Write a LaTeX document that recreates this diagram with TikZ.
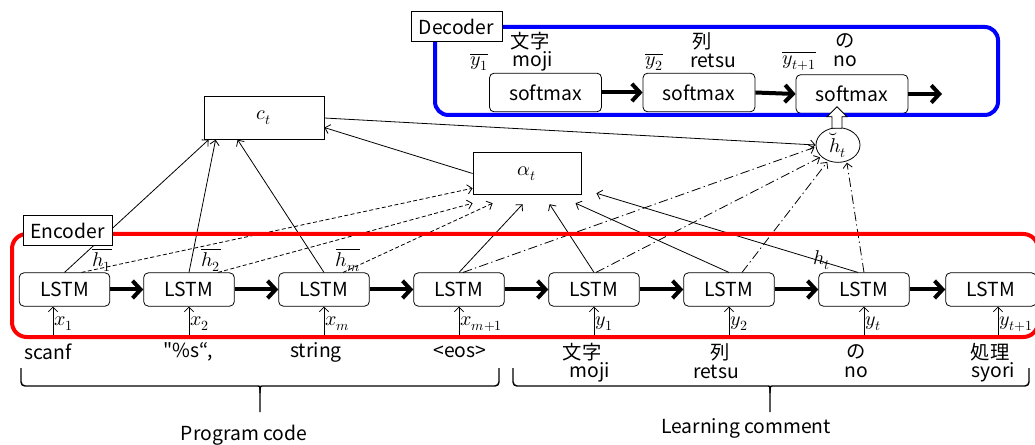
\documentclass[tikz,border=0pt]{standalone}
\usepackage{fontspec}
\usepackage{unicode-math}
\setmainfont{Noto Sans CJK JP}
\setmathfont{Latin Modern Math}
\usetikzlibrary{arrows.meta,calc,shapes.geometric}
\definecolor{encred}{RGB}{255,0,0}
\definecolor{decblue}{RGB}{0,0,255}
\tikzset{
  txt/.style={font=\fontsize{14.5}{16}\selectfont, inner sep=0pt},
  mth/.style={font=\fontsize{15}{17}\selectfont, inner sep=0pt},
  lstm/.style={draw, rounded corners=3.5pt, line width=0.6pt, minimum width=68pt,
    minimum height=25pt, inner sep=0pt, txt},
  smax/.style={lstm, minimum width=84pt, minimum height=29pt},
  vbox/.style={draw, line width=0.6pt, inner sep=0pt, mth},
  tag/.style={draw, fill=white, line width=0.5pt, inner sep=0pt, txt},
  flow/.style={line width=3pt, -{Straight Barb[length=6pt,width=13pt]}},
  link/.style={line width=0.6pt, -{Straight Barb[length=3.5pt,width=7pt]}},
  hbar/.style={link, dash pattern=on 3pt off 1.8pt},
  dotdash/.style={link, dash pattern=on 7pt off 2.5pt on 1pt off 2.5pt},
  frame/.style={line width=3pt, rounded corners=11pt},
}
\begin{document}
\begin{tikzpicture}[x=0.75pt, y=-0.75pt]
\useasboundingbox (0,0) rectangle (1035,445);

% encoder / decoder LSTM chain
\node[lstm] (l1) at (64.5,289.5) {LSTM};
\node[lstm] (l2) at (189,289.5) {LSTM};
\node[lstm] (l3) at (324,289.5) {LSTM};
\node[lstm] (l4) at (459,289.5) {LSTM};
\node[lstm] (l5) at (594,289.5) {LSTM};
\node[lstm] (l6) at (729,289.5) {LSTM};
\node[lstm] (l7) at (864,289.5) {LSTM};
\node[lstm] (l8) at (991,289.5) {LSTM};

% attention blocks
\node[vbox, minimum width=90pt, minimum height=32pt] (ct) at (264,118) {$c_t$};
\node[vbox, minimum width=81pt, minimum height=32pt] (at) at (527,173.5) {$\alpha_t$};
\node[draw, ellipse, line width=0.6pt, minimum width=33pt, minimum height=25.5pt,
  inner sep=0pt, mth] (ht) at (838,145) {$\breve{h}_t$};

% output layer
\node[smax] (s1) at (545.5,92.5) {softmax};
\node[smax] (s2) at (699,92.5) {softmax};
\node[smax] (s3) at (852,94) {softmax};
\coordinate (send) at (942,94);

% recurrent links
\foreach \a/\b in {l1/l2,l2/l3,l3/l4,l4/l5,l5/l6,l6/l7,l7/l8}
  \draw[flow] (\a.east) -- (\b.west);
\draw[flow] (s1.east) -- (s2.west);
\draw[flow] (s2.east) -- (s3.west);
\draw[flow] (s3.east) -- (send);

% inputs
\foreach \i/\x/\n/\lab in {1/53/l1/x_1, 2/189/l2/x_2, 3/324/l3/x_m, 4/459/l4/x_{m+1},
    5/594/l5/y_1, 6/729/l6/y_2, 7/864/l7/y_t, 8/998/l8/y_{t+1}}{
  \coordinate (in\i) at (\x,337);
  \draw[link] (in\i) -- (in\i |- \n.south);
  \node[mth, anchor=west] at ($(in\i)+(1,-13)$) {$\lab$};
}

% encoder states into the context vector
\draw[link] (l1.north) -- ($(ct.south west)+(5,0)$);
\draw[link] (l2.north) -- ($(ct.south west)+(12,0)$);
\draw[link] (l3.north) -- ($(ct.south west)+(34,0)$);
\draw[link] (at.west) -- ($(ct.south east)!0.28!(ct.north east)$);
\draw[link] (ct.east) -- (ht.west);

% encoder states into the attention weights
\draw[hbar] ($(l1.north)+(17,0)$) -- ($(at.south west)+(0,-7)$);
\draw[hbar] ($(l2.north)+(29,0)$) -- ($(at.south west)+(0,8)$);
\draw[hbar] ($(l3.north)+(19,0)$) -- ($(at.south west)+(20,8)$);

% decoder states into the attention weights
\draw[link] (l4.north) -- ($(at.south west)+(50,9)$);
\draw[link] (l5.north) -- ($(at.south west)+(77,9)$);
\draw[link] (l6.north) -- ($(at.south west)+(103,8)$);
\draw[link] ($(l7.north)+(-6,0)$) -- ($(at.south east)+(15,-2)$);

% decoder states into the attentional hidden state
\draw[dotdash, shorten >=1pt] ($(l4.north)+(4,0)$) -- (ht.185);
\draw[dotdash, shorten >=1pt] ($(l5.north)+(2,0)$) -- (ht.215);
\draw[dotdash, shorten >=1pt] ($(l6.north)+(13,0)$) -- (ht.238);
\draw[dotdash, shorten >=1pt] (l7.north) -- (ht.298);

% state labels
\node[mth] at (102,260) {$\overline{h_1}$};
\node[mth] at (211,260) {$\overline{h_2}$};
\node[mth] at (348,260) {$\overline{h_m}$};
\node[mth] at (822,260) {$h_t$};

% encoder and decoder frames
\draw[frame, encred] (12,234) rectangle (1038,337);
\draw[frame, decblue, rounded corners=10pt] (435,27) rectangle (998,115);
\node[tag, minimum width=67pt, minimum height=23pt] (enc) at (67.5,230.5) {Encoder};
\node[tag, minimum width=68pt, minimum height=23pt] (dec) at (456.5,26.5) {Decoder};

% hollow arrow from the attentional state into the output layer
\coordinate (ha) at ($(ht.north)+(-1,1)$);
\coordinate (hb) at ($(ha |- s3.south)+(0,-7)$);
\draw[line width=0.6pt, fill=white]
  ($(ha)+(-5,0)$) -- ($(hb)+(-5,10)$) -- ($(hb)+(-10,10)$) -- (hb)
  -- ($(hb)+(10,10)$) -- ($(hb)+(5,10)$) -- ($(ha)+(5,0)$) -- cycle;

% decoder outputs
\node[txt] at (530,41) {文字};
\node[txt] at (533,61) {moji};
\node[mth] at (479,62) {$\overline{y_1}$};
\node[txt] at (702,41) {列};
\node[txt] at (713,61) {retsu};
\node[mth] at (654,62) {$\overline{y_2}$};
\node[txt] at (845,41) {の};
\node[txt] at (845,61) {no};
\node[mth] at (799,61) {$\overline{y_{t+1}}$};

% source and target tokens
\node[txt] at (48,352) {scanf};
\node[txt] at (188,352) {\textquotedbl\%s“,};
\node[txt] at (316,352) {string};
\node[txt] at (460,352) {<eos>};
\node[txt] at (582,352) {文字};
\node[txt] at (590,372) {moji};
\node[txt] at (720,352) {列};
\node[txt] at (716,372) {retsu};
\node[txt] at (856,352) {の};
\node[txt] at (856,372) {no};
\node[txt] at (990,352) {処理};
\node[txt] at (993,372) {syori};

% braces
\draw[line width=1.1pt, rounded corners=3pt]
  (21,368) |- (254,386) .. controls (260,386) .. (260,393) -- (260,412);
\draw[line width=1.1pt, rounded corners=3pt]
  (260,393) .. controls (260,386) .. (266,386) -| (499,368);
\draw[line width=1.1pt, rounded corners=3pt]
  (513,368) |- (764,386) .. controls (770,386) .. (770,393) -- (770,412);
\draw[line width=1.1pt, rounded corners=3pt]
  (770,393) .. controls (770,386) .. (776,386) -| (1029,368);
\node[txt] at (244,435) {Program code};
\node[txt] at (746,428) {Learning comment};
\end{tikzpicture}
\end{document}
